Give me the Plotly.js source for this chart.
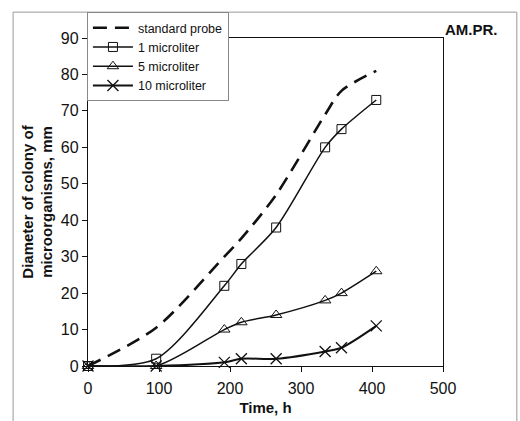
<!DOCTYPE html>
<html>
<head>
<meta charset="utf-8">
<script src="https://cdn.plot.ly/plotly-3.0.1.min.js"></script>
<style>html,body{margin:0;padding:0;background:#fff;}#chart{width:520px;height:421px;}</style>
</head>
<body>
<div id="chart"></div>
<script>
const time = [0, 96, 192, 216, 265, 334, 357, 406];
const standardProbe = [0, 10.5, 30, 35, 47, 69, 75.5, 81];
const oneMicroliter = [0, 2, 22, 28, 38, 60, 65, 73];
const fiveMicroliter = [0, 0, 10, 12, 14, 18, 20, 26];
const tenMicroliter = [0, 0, 1, 2, 2, 4, 5, 11];
const seriesNames = ['standard probe', '1 microliter', '5 microliter', '10 microliter'];
const xTicks = [0, 100, 200, 300, 400, 500];
const yTicks = [0, 10, 20, 30, 40, 50, 60, 70, 80, 90];

const traces = [
  {x: time, y: standardProbe, name: seriesNames[0], mode: 'lines',
   line: {color: '#111', width: 2.6, dash: '14px,8px', shape: 'spline', smoothing: 0.8}},
  {x: time, y: oneMicroliter, name: seriesNames[1], mode: 'lines+markers',
   line: {color: '#111', width: 1.5, shape: 'spline', smoothing: 0.8},
   marker: {symbol: 'square-open', size: 9, color: '#111', line: {width: 1}}},
  {x: time, y: fiveMicroliter, name: seriesNames[2], mode: 'lines+markers',
   line: {color: '#111', width: 1.5, shape: 'spline', smoothing: 0.8},
   marker: {symbol: 'triangle-up-open', size: 10, color: '#111', line: {width: 1}}},
  {x: time, y: tenMicroliter, name: seriesNames[3], mode: 'lines+markers',
   line: {color: '#111', width: 2, shape: 'spline', smoothing: 0.8},
   marker: {symbol: 'x-thin-open', size: 11, color: '#111', line: {width: 1.3, color: '#111'}}}
];
traces.forEach(t => t.cliponaxis = false);

const axisCommon = {
  showgrid: false, zeroline: false, showline: true, linecolor: '#111', linewidth: 1.2,
  mirror: true, ticks: 'outside', ticklen: 5, tickcolor: '#111',
  tickfont: {family: 'Liberation Sans, Arial, sans-serif', size: 16, color: '#111'}
};

const layout = {
  width: 520, height: 421,
  margin: {l: 88, r: 77, t: 36, b: 55},
  paper_bgcolor: '#fff', plot_bgcolor: '#fff',
  showlegend: true,
  xaxis: Object.assign({}, axisCommon, {
    range: [0, 500], tickvals: xTicks, ticktext: xTicks.map(String),
    ticklabelstandoff: 3,
    title: {text: 'Time, h', standoff: 6,
            font: {family: 'Liberation Sans, Arial, sans-serif', size: 15, color: '#111', weight: 'bold'}}
  }),
  yaxis: Object.assign({}, axisCommon, {
    range: [0, 90], tickvals: yTicks, ticktext: yTicks.map(String),
    title: {text: '<b>Diameter of colony of<br>microorganisms, mm</b>', standoff: 4,
            font: {family: 'Liberation Sans, Arial, sans-serif', size: 15, color: '#111'}}
  }),
  legend: {
    x: -0.003, y: 1.079, xanchor: 'left', yanchor: 'top',
    bgcolor: '#fff', bordercolor: '#888', borderwidth: 1,
    font: {family: 'Liberation Sans, Arial, sans-serif', size: 12.5, color: '#111'},
    itemwidth: 40, tracegroupgap: 0
  },
  annotations: [
    {text: '<b>AM.PR.</b>', xref: 'paper', yref: 'paper', x: 1.079, y: 1.025,
     xanchor: 'center', yanchor: 'middle', showarrow: false,
     font: {family: 'Liberation Sans, Arial, sans-serif', size: 15, color: '#111'}}
  ],
  shapes: [
    {type: 'line', xref: 'paper', yref: 'paper', x0: -0.211, x1: 1.208, y0: 1.0788, y1: 1.0788, line: {color: '#999', width: 1}},
    {type: 'line', xref: 'paper', yref: 'paper', x0: -0.211, x1: -0.211, y0: 1.0788, y1: -0.2, line: {color: '#999', width: 1}},
    {type: 'line', xref: 'paper', yref: 'paper', x0: 1.208, x1: 1.208, y0: 1.0788, y1: -0.2, line: {color: '#999', width: 1}}
  ]
};

Plotly.newPlot('chart', traces, layout, {displayModeBar: false, staticPlot: true});
</script>
</body>
</html>
